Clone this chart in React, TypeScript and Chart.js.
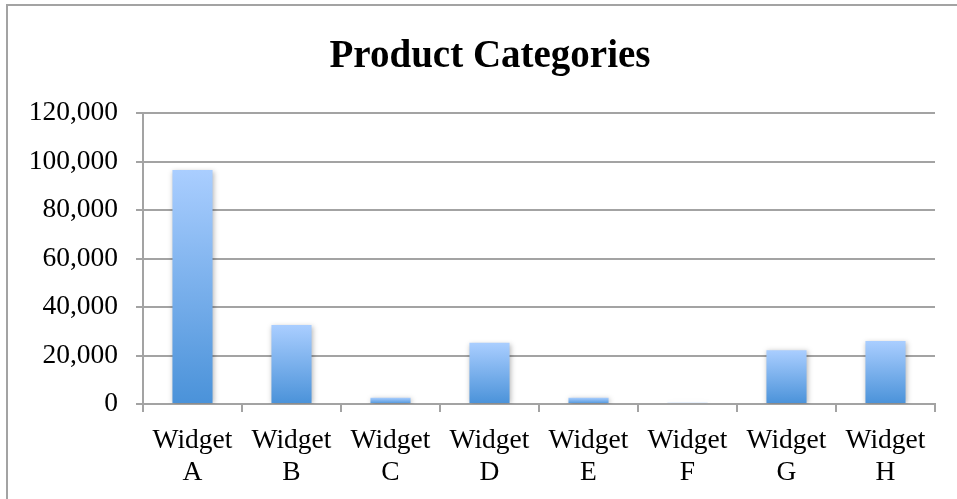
import { useEffect, useRef } from "react";
import { Chart, registerables } from "chart.js";

Chart.register(...registerables);

const chartTitle = "Product Categories";
const categories: string[][] = [
  ["Widget", "A"],
  ["Widget", "B"],
  ["Widget", "C"],
  ["Widget", "D"],
  ["Widget", "E"],
  ["Widget", "F"],
  ["Widget", "G"],
  ["Widget", "H"],
];
const salesValues = [96500, 32600, 2600, 25300, 2600, 550, 22200, 26000];
const yMin = 0;
const yMax = 120000;
const yStep = 20000;

const GRAY = "#a3a3a3";
const FONT = "'Liberation Serif', 'Times New Roman', serif";

const shadowPlugin = {
  id: "barShadow",
  afterLayout(chart: any) {
    // let the y tick labels use the space left of the axis box
    if (chart.scales?.y) chart.scales.y.left = 0;
  },
  beforeDatasetsDraw(chart: any) {
    const c = chart.ctx;
    c.save();
    c.shadowColor = "rgba(0,0,0,0.28)";
    c.shadowBlur = 5;
    c.shadowOffsetX = 1;
    c.shadowOffsetY = 1;
  },
  afterDatasetsDraw(chart: any) {
    chart.ctx.restore();
  },
};

export default function App() {
  const ref = useRef<HTMLCanvasElement>(null);

  useEffect(() => {
    const canvas = ref.current!;
    const chart = new Chart(canvas, {
      type: "bar",
      data: {
        labels: categories,
        datasets: [
          {
            label: "Sales",
            data: salesValues,
            backgroundColor: (ctx: any) => {
              const ch = ctx.chart;
              const ys = ch.scales?.y;
              if (!ch.chartArea || !ys || ctx.type !== "data") return "#6fa6e8";
              const v = ctx.raw as number;
              const top = ys.getPixelForValue(v);
              const bottom = ys.getPixelForValue(0);
              if (!isFinite(top) || !isFinite(bottom) || top === bottom) return "#a9cdfd";
              const g = ch.ctx.createLinearGradient(0, top, 0, bottom);
              g.addColorStop(0, "rgb(170,206,255)");
              g.addColorStop(1, "rgb(74,146,217)");
              return g;
            },
            borderWidth: 0,
            categoryPercentage: 1,
            barPercentage: 0.405,
          },
        ],
      },
      options: {
        animation: false,
        responsive: false,
        devicePixelRatio: 1,
        layout: { padding: { left: 37, right: 37, top: 0, bottom: 0 } },
        plugins: {
          legend: { display: false },
          tooltip: { enabled: false },
          title: {
            display: true,
            text: chartTitle,
            color: "#000",
            font: { family: FONT, size: 39, weight: "bold", lineHeight: 1.2 },
            padding: { top: 27.3, bottom: 32.9 },
          },
        },
        scales: {
          x: {
            grid: {
              display: true,
              drawOnChartArea: false,
              drawTicks: true,
              tickLength: 8,
              offset: true,
              color: GRAY,
              tickColor: GRAY,
              lineWidth: 2,
            },
            border: { display: true, color: GRAY, width: 2 },
            ticks: {
              color: "#000",
              font: { family: FONT, size: 27.5, lineHeight: 1.165 },
              padding: 13,
              maxRotation: 0,
              autoSkip: false,
            },
            afterFit: (scale: any) => {
              scale.height = 520 - 398;
            },
          },
          y: {
            min: yMin,
            max: yMax,
            grid: {
              color: GRAY,
              tickColor: GRAY,
              lineWidth: 2,
              tickLength: 7,
              drawTicks: true,
            },
            border: { display: true, color: GRAY, width: 2 },
            ticks: {
              stepSize: yStep,
              color: "#000",
              font: { family: FONT, size: 27.5 },
              padding: 18,
              callback: (v: any) => Number(v).toLocaleString("en-US"),
            },
            afterFit: (scale: any) => {
              scale.width = 98;
            },
          },
        },
      },
      plugins: [shadowPlugin],
    } as any);
    return () => chart.destroy();
  }, []);

  return (
    <div
      style={{
        position: "fixed",
        left: 0,
        top: 0,
        width: 957,
        height: 499,
        overflow: "hidden",
        background: "#fff",
      }}
    >
      <div
        style={{
          position: "absolute",
          left: 6,
          top: 4,
          width: 964,
          height: 520,
          border: `2px solid ${GRAY}`,
          background: "#fff",
        }}
      >
        <canvas
          ref={ref}
          width={964}
          height={520}
          style={{ display: "block", width: 964, height: 520 }}
        />
      </div>
    </div>
  );
}
